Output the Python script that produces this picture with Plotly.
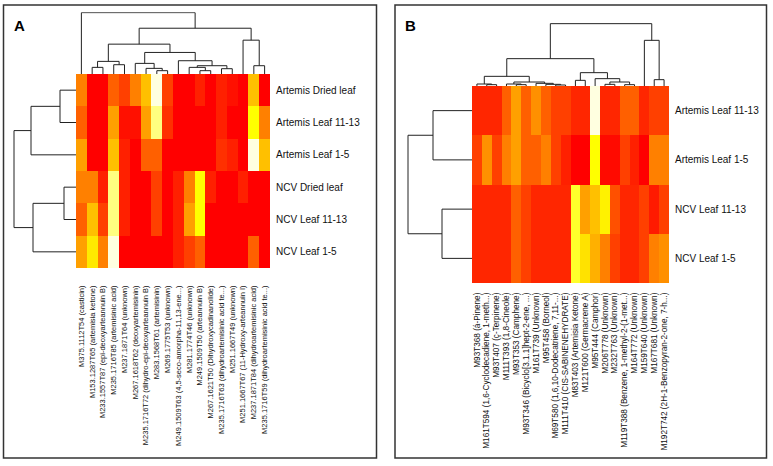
import plotly.graph_objects as go

# ---- panel A : sesquiterpenes (18 features x 6 samples) ----
a_cols = ['M375.1112T54 (casticin)', 'M153.1287T65 (artemisia ketone)',
          'M233.1557T87 (epi-deoxyarteannuin B)', 'M235.1716T85 (artemisinic acid)',
          'M237.1871T64 (unknown)', 'M267.1618T62 (deoxyartemisinin)',
          'M235.1716T72 (dihydro-epi-deoxyarteannuin B)', 'M283.1568T61 (artemisinin)',
          'M269.1775T53 (unknown)', 'M249.1509T63 (4,5-seco-amorpha-11,13-ene...)',
          'M281.1774T46 (unknown)', 'M249.1509T50 (arteannuin B)',
          'M267.1621T50 (Dihydroxycadinanolide)', 'M235.1716T63 (dihydroartemisinic acid te...)',
          'M251.1667T49 (unknown)', 'M251.1667T67 (11-Hydroxy-arteannuin I)',
          'M237.1871T84 (dihydroartemisinic acid)', 'M235.1716T59 (dihydroartemisinic acid te...)']
a_rows = ['Artemis Dried leaf', 'Artemis Leaf 11-13', 'Artemis Leaf 1-5',
          'NCV Dried leaf', 'NCV Leaf 11-13', 'NCV Leaf 1-5']

# scaled intensity (0 = red, 1 = pale yellow)
a_artemis_dried = [0.4, 0, 0, 0.3, 0.2, 0.4, 0.6, 1.0, 0.2, 0, 0, 0.1, 0, 0.1, 0.05, 0, 0.6, 0]
a_artemis_11_13 = [0.3, 0, 0, 0.5, 0.05, 0.05, 0.5, 0.9, 0.15, 0, 0, 0, 0, 0.1, 0, 0, 0.75, 0.4]
a_artemis_1_5 = [0.5, 0, 0, 0.6, 0.1, 0, 0.3, 0.3, 0, 0, 0, 0, 0, 0.15, 0.1, 0, 1.0, 0.6]
a_ncv_dried = [0.4, 0.4, 0.1, 0.9, 0.1, 0, 0, 0.2, 0, 0.1, 0.4, 0.75, 0.1, 0, 0, 0.1, 0, 0]
a_ncv_11_13 = [0.3, 0.6, 0.2, 0.9, 0.1, 0, 0, 0.2, 0, 0.1, 0.5, 0.75, 0, 0, 0, 0, 0, 0]
a_ncv_1_5 = [0.5, 0.7, 0.4, 1.0, 0, 0, 0, 0, 0, 0.1, 0.2, 0.3, 0, 0, 0, 0, 0.3, 0]

# dendrograms: (child, child, height); ids < n are leaves, n+i is merge i
a_col_tree = [(1, 2, 20), (3, 4, 28), (18, 19, 38), (7, 8, 10), (6, 21, 17), (5, 22, 32),
              (11, 12, 10), (10, 24, 20), (13, 14, 16), (25, 26, 25), (9, 27, 40),
              (23, 28, 65), (20, 29, 90), (16, 17, 25), (15, 31, 102), (30, 32, 138),
              (0, 33, 185)]
a_row_tree = [(0, 1, 16), (6, 2, 45), (3, 4, 12), (8, 5, 43), (7, 9, 62)]

# ---- panel B : volatiles (20 features x 4 samples) ----
b_cols = ['M93T368 (á-Pinene)', 'M161T594 (1,6-Cyclodecadiene, 1-meth...)',
          'M93T407 (ç-Terpinene)', 'M111T393 (1,8-Cineole)', 'M93T353 (Camphene)',
          'M93T346 (Bicyclo[3.1.1]hept-2-ene, ...)', 'M161T739 (Unknown)', 'M95T458 (Borneol)',
          'M69T580 (1,6,10-Dodecatriene, 7,11-...)', 'M111T410 (CIS-SABINENEHYDRATE)',
          'M83T403 (Artemisia Ketone)', 'M121T600 (Germacrene A)', 'M95T444 (Camphor)',
          'M206T778 (Unknown)', 'M232T763 (Unknown)', 'M119T388 (Benzene, 1-methyl-2-(1-met...)',
          'M164T772 (Unknown)', 'M159T640 (Unknown)', 'M167T681 (Unknown)',
          'M192T742 (2H-1-Benzopyran-2-one, 7-h...)']
b_rows = ['Artemis Leaf 11-13', 'Artemis Leaf 1-5', 'NCV Leaf 11-13', 'NCV Leaf 1-5']

b_artemis_11_13 = [0.12, 0.12, 0.12, 0.3, 0.5, 0.3, 0.45, 0.3, 0.2, 0.2,
                   0.12, 0.12, 1.0, 0.12, 0.12, 0.3, 0.3, 0.12, 0.2, 0.2]
b_artemis_1_5 = [0.2, 0.45, 0.2, 0.4, 0.5, 0.3, 0.3, 0.4, 0.2, 0.1,
                 0, 0, 0.75, 0.03, 0.03, 0.2, 0.1, 0, 0.4, 0.4]
b_ncv_11_13 = [0.12, 0.12, 0.12, 0.12, 0.3, 0.2, 0.12, 0.12, 0.12, 0.12,
               0.8, 0.5, 0.6, 0.72, 0.25, 0.12, 0.12, 0.2, 0.08, 0.2]
b_ncv_1_5 = [0.12, 0.12, 0.12, 0.12, 0.3, 0.2, 0.12, 0.12, 0.12, 0.12,
             0.8, 0.68, 0.55, 0.4, 0.2, 0.12, 0.12, 0.2, 0.4, 0.45]

b_col_tree = [(1, 2, 4), (0, 20, 6), (4, 5, 4), (3, 22, 6), (8, 9, 3), (7, 24, 5), (6, 25, 8),
              (23, 26, 12), (21, 27, 29), (10, 11, 17), (13, 14, 5), (15, 16, 4), (30, 31, 12),
              (12, 32, 22), (29, 33, 40), (28, 34, 82), (18, 19, 19), (17, 36, 137),
              (35, 37, 187)]
b_row_tree = [(0, 1, 39), (2, 3, 30), (4, 5, 64)]

heat = [[0.0, '#FF0000'], [0.15, '#FF3000'], [0.3, '#FF6000'], [0.45, '#FF9000'],
        [0.6, '#FFC000'], [0.75, '#FFFF00'], [0.9, '#FFFF80'], [1.0, '#FFFFE0']]

W, H = 773, 466
FONT = 'Liberation Sans, Arial, sans-serif'


def xd(a, b):
    return [a / W, b / W]


def yd(top, bottom):
    return [1 - bottom / H, 1 - top / H]


def dendro_segments(n, tree):
    pos = list(range(n))
    hgt = [0] * n
    xs, ys = [], []
    for a, b, h in tree:
        xs += [pos[a], pos[a], pos[b], pos[b], None]
        ys += [hgt[a], h, h, hgt[b], None]
        pos.append((pos[a] + pos[b]) / 2)
        hgt.append(h)
    return xs, ys


fig = go.Figure()
shapes, annotations = [], []


def panel(k, cols, rows, z, col_tree, row_tree, hm, col_top, row_left, col_max, row_max,
          col_standoff, col_size, letter, box):
    # hm = (left, right, top, bottom) in px
    ax = 3 * k + 1
    nx, ny = len(cols), len(rows)
    sfx = lambda i: '' if i == 1 else str(i)
    fig.add_trace(go.Heatmap(z=z, x=list(range(nx)), y=list(range(ny)), colorscale=heat,
                             zmin=0, zmax=1, showscale=False,
                             xaxis='x' + sfx(ax), yaxis='y' + sfx(ax)))
    cx, cy = dendro_segments(nx, col_tree)
    fig.add_trace(go.Scatter(x=cx, y=cy, mode='lines', line=dict(color='#222', width=1),
                             xaxis='x' + sfx(ax + 1), yaxis='y' + sfx(ax + 1),
                             showlegend=False, hoverinfo='skip'))
    rx, ry = dendro_segments(ny, row_tree)
    fig.add_trace(go.Scatter(x=ry, y=rx, mode='lines', line=dict(color='#222', width=1),
                             xaxis='x' + sfx(ax + 2), yaxis='y' + sfx(ax + 2),
                             showlegend=False, hoverinfo='skip'))
    l, r, t, b = hm
    hide = dict(showgrid=False, zeroline=False, showticklabels=False, ticks='', showline=False)
    fig.update_layout(**{
        'xaxis' + sfx(ax): dict(domain=xd(l, r), range=[-0.5, nx - 0.5], anchor='y' + sfx(ax),
                                tickmode='array', tickvals=list(range(nx)), ticktext=cols,
                                tickangle=-90, ticks='', showgrid=False, zeroline=False,
                                ticklabelstandoff=col_standoff,
                                tickfont=dict(family=FONT, size=col_size, color='#111')),
        'yaxis' + sfx(ax): dict(domain=yd(t, b), range=[ny - 0.5, -0.5], anchor='x' + sfx(ax),
                                side='right', tickmode='array', tickvals=list(range(ny)),
                                ticktext=rows, ticks='', showgrid=False, zeroline=False,
                                ticklabelstandoff=5,
                                tickfont=dict(family=FONT, size=10, color='#111')),
        'xaxis' + sfx(ax + 1): dict(domain=xd(l, r), range=[-0.5, nx - 0.5],
                                    anchor='y' + sfx(ax + 1), **hide),
        'yaxis' + sfx(ax + 1): dict(domain=yd(col_top, t), range=[0, col_max],
                                    anchor='x' + sfx(ax + 1), **hide),
        'xaxis' + sfx(ax + 2): dict(domain=xd(row_left, l), range=[row_max, 0],
                                    anchor='y' + sfx(ax + 2), **hide),
        'yaxis' + sfx(ax + 2): dict(domain=yd(t, b), range=[ny - 0.5, -0.5],
                                    anchor='x' + sfx(ax + 2), **hide),
    })
    bl, br, bt, bb = box
    shapes.append(dict(type='rect', xref='paper', yref='paper', x0=bl / W, x1=br / W,
                       y0=1 - bb / H, y1=1 - bt / H, line=dict(color='#333', width=1.5)))
    annotations.append(dict(text='<b>' + letter + '</b>', xref='paper', yref='paper',
                            x=(bl + 8) / W, y=1 - 15 / H, xanchor='left', yanchor='top',
                            showarrow=False, font=dict(family=FONT, size=15, color='#000')))


panel(0, a_cols, a_rows,
      [a_artemis_dried, a_artemis_11_13, a_artemis_1_5, a_ncv_dried, a_ncv_11_13, a_ncv_1_5],
      a_col_tree, a_row_tree, (76, 270, 74, 268), 12.3, 12, 186, 64, 15, 7.5, 'A',
      (3.5, 376.5, 5, 458))
panel(1, b_cols, b_rows, [b_artemis_11_13, b_artemis_1_5, b_ncv_11_13, b_ncv_1_5],
      b_col_tree, b_row_tree, (472, 669, 86, 283), 23, 406, 189, 66, 7, 8.2, 'B',
      (395, 766.5, 5, 458))

fig.update_layout(width=W, height=H, margin=dict(l=0, r=0, t=0, b=0),
                  paper_bgcolor='white', plot_bgcolor='white', showlegend=False,
                  shapes=shapes, annotations=annotations)
fig.write_html('out.html', config={'displayModeBar': False},
               post_script="document.body.style.margin='0';")
